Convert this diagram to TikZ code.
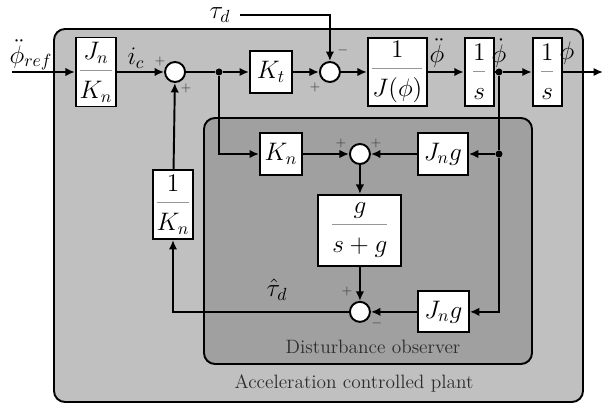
\documentclass[tikz,border=0pt]{standalone}
\usepackage{amsmath}
\usetikzlibrary{arrows.meta,positioning,calc}
\definecolor{plantfill}{RGB}{192,192,192}
\definecolor{obsfill}{RGB}{160,160,160}
\definecolor{barclr}{RGB}{150,150,150}
\definecolor{sgnclr}{RGB}{60,60,60}
\definecolor{capclr}{RGB}{45,45,45}
%% fraction with a grey bar and a lowered denominator
\newcommand{\gfrac}[2]{{\color{barclr}\dfrac{\color{black}#1}{\color{black}\rule{0pt}{14pt}#2}}}
\tikzset{
  %% transfer block
  blk/.style={rectangle,draw,fill=white,line width=1.1pt,inner sep=1pt,font=\fontsize{14}{17}\selectfont},
  %% summing junction
  sumc/.style={circle,draw,fill=white,line width=1.1pt,minimum size=0.4cm,inner sep=0pt},
  %% branch point
  jdot/.style={circle,fill,minimum size=0.14cm,inner sep=0pt},
  %% arrows and plain lines
  arr/.style={-{Latex[length=1.9mm,width=1.7mm]},line width=1.1pt},
  ln/.style={line width=1.1pt},
  %% signs and signal names
  sgn/.style={font=\scriptsize,text=sgnclr,inner sep=0pt},
  sig/.style={font=\fontsize{14}{17}\selectfont,inner sep=0pt},
  %% group boxes
  grpbox/.style={draw,line width=1.1pt,rounded corners=0.22cm,fill=#1},
  captxt/.style={font=\fontsize{11}{13}\selectfont,text=capclr},
}
\begin{document}
\begin{tikzpicture}
  \useasboundingbox (0,0) rectangle (12.06,-8.12);

  %% group boxes
  \draw[grpbox=plantfill] (1.08,-0.58) rectangle (11.66,-8.04);
  \draw[grpbox=obsfill]   (4.08,-2.36) rectangle (10.64,-7.28);

  %% Forward path (left to right)
  \coordinate (in) at (0.24,-1.44);
  \node[blk,minimum width=0.8cm,minimum height=1.38cm] (jk) at (1.92,-1.44) {$\gfrac{J_n}{K_n}$};
  \node[sumc,right=0.94cm of jk] (s1) {};
  \node[blk,minimum size=0.84cm,right=1.26cm of s1] (kt) {$K_t$};
  \node[sumc,right=0.52cm of kt] (s2) {};
  \node[blk,minimum width=1.18cm,minimum height=1.36cm,right=0.52cm of s2] (jinv) {$\gfrac{1}{J(\phi)}$};
  \node[blk,minimum width=0.58cm,minimum height=1.36cm,right=0.72cm of jinv] (int1) {$\gfrac{1}{s}$};
  \node[blk,minimum width=0.58cm,minimum height=1.36cm,right=0.74cm of int1] (int2) {$\gfrac{1}{s}$};
  \coordinate (out) at (12.06,-1.44);
  \node[jdot] (d1) at (4.38,-1.44) {};
  \node[jdot] (d2) at (9.98,-1.44) {};

  %% Disturbance input
  \node[sig] (taud) at (4.4,-0.3) {$\tau_d$};

  %% Observer (inside the dark box)
  \node[blk,minimum size=0.84cm] (kn) at (5.62,-3.08) {$K_n$};
  \node[sumc,right=0.92cm of kn] (s3) {};
  \node[blk,minimum width=1.0cm,minimum height=0.84cm,right=0.92cm of s3] (jg1) {$J_n g$};
  \node[jdot] (d3) at (d2 |- s3) {};
  \node[blk,minimum width=1.66cm,minimum height=1.42cm,below=0.58cm of s3] (gb) {$\gfrac{g}{s+g}$};
  \node[sumc,below=0.68cm of gb] (s4) {};
  \node[blk,minimum width=1.02cm,minimum height=0.82cm,right=0.92cm of s4] (jg2) {$J_n g$};

  %% Feedback block
  \node[blk,minimum width=0.8cm,minimum height=1.38cm] (ik) at (3.46,-4.09) {$\gfrac{1}{K_n}$};

  %% Signal names
  \node[sig] at (0.62,-1.1)   {$\ddot{\phi}_{ref}$};
  \node[sig] at (2.72,-1.16)  {$i_c$};
  \node[sig] at (8.74,-1.06)  {$\ddot{\phi}$};
  \node[sig] at (9.98,-1.06)  {$\dot{\phi}$};
  \node[sig] at (11.34,-1.06) {$\phi$};
  \node[sig] at (5.54,-5.8)   {$\hat{\tau}_d$};

  %% Signs
  \node[sgn] at ($(s1)+(-0.3,0.22)$)  {$+$};
  \node[sgn] at ($(s1)+(0.22,-0.32)$) {$+$};
  \node[sgn] at ($(s2)+(0.26,0.44)$)  {$-$};
  \node[sgn] at ($(s2)+(-0.3,-0.3)$)  {$+$};
  \node[sgn] at ($(s3)+(-0.38,0.22)$) {$+$};
  \node[sgn] at ($(s3)+(0.32,0.22)$)  {$+$};
  \node[sgn] at ($(s4)+(-0.26,0.4)$)  {$+$};
  \node[sgn] at ($(s4)+(0.34,-0.24)$) {$-$};

  %% Captions
  \node[captxt] at (7.46,-6.94) {Disturbance observer};
  \node[captxt] at (7.08,-7.66) {Acceleration controlled plant};

  %% Forward arrows
  \draw[arr] (in) -- (jk);
  \draw[arr] (jk) -- (s1);
  \draw[ln]  (s1) -- (d1);
  \draw[arr] (d1) -- (kt);
  \draw[arr] (kt) -- (s2);
  \draw[arr] (s2) -- (jinv);
  \draw[arr] (jinv) -- (int1);
  \draw[ln]  (int1) -- (d2);
  \draw[arr] (d2) -- (int2);
  \draw[arr] (int2) -- (out);
  \draw[arr,shorten <=0.18cm] (taud) -| (s2);

  %% Observer arrows
  \draw[arr] (d1) |- (kn);
  \draw[arr] (kn) -- (s3);
  \draw[ln]  (d2) -- (d3);
  \draw[arr] (d3) -- (jg1);
  \draw[arr] (jg1) -- (s3);
  \draw[arr] (s3) -- (gb);
  \draw[arr] (gb) -- (s4);
  \draw[arr] (d3) |- (jg2);
  \draw[arr] (jg2) -- (s4);

  %% Feedback arrows
  \draw[arr] (s4) -| (ik);
  \draw[arr] (ik) -- (s1);

\end{tikzpicture}
\end{document}
